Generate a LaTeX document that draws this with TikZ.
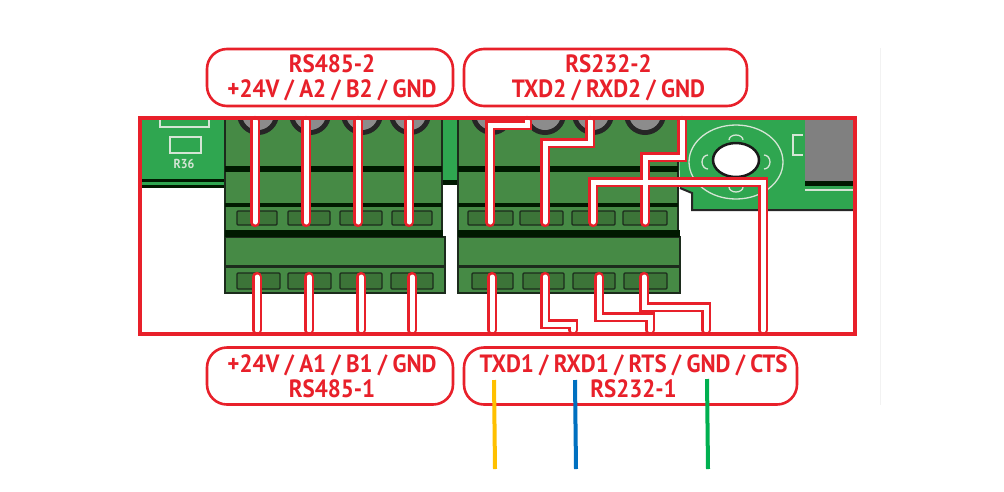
\documentclass[tikz,border=0pt]{standalone}
\usepackage{fontspec}
\setmainfont{PT Sans}[FakeStretch=0.92, WordSpace=0.9]
\usepackage{tikz}
\definecolor{label red}{HTML}{E8202A}
\definecolor{board green}{HTML}{2FA650}
\definecolor{block green}{HTML}{468A45}
\definecolor{cell green}{HTML}{3C7438}
\definecolor{block edge}{HTML}{1C2B1C}
\definecolor{silk}{HTML}{D5E5D5}
\tikzset{wire/.style={draw=label red, line width=2.7pt, double=white, double distance=5pt, line cap=round, line join=miter}}
\tikzset{block/.style={fill=block green, draw=block edge, line width=1.2pt}}
\tikzset{band/.style={fill=black!90!green}}
\tikzset{cell/.style={fill=cell green, draw=block edge, line width=1.2pt, rounded corners=1pt}}
\tikzset{screw/.style={fill=black!85}}
\tikzset{screw head/.style={fill=black!45}}
\tikzset{silk line/.style={draw=silk, line width=1.3pt}}
\tikzset{label box/.style={draw=label red, fill=white, line width=2.6pt, rounded corners=20pt, align=center, text=label red, inner sep=0pt, minimum height=57pt, font=\fontsize{25}{25}\selectfont\bfseries}}
\tikzset{pin line/.style={line width=4pt}}

\begin{document}
\begin{tikzpicture}[x=1pt, y=-1pt]
    \useasboundingbox (0, 0) rectangle (1004, 491);
    \fill[white] (0, 0) rectangle (1004, 491);
    \draw[black!5, line width=1pt] (880, 48) -- (880, 405);

    \fill[board green] (139, 118) rectangle (226, 188);
    \fill[band] (139, 179) rectangle (226, 182);
    \fill[band] (139, 185) rectangle (226, 188);
    \draw[silk line] (160, 118) -- (160, 127) -- (209, 127) -- (209, 118);
    \draw[silk line] (170, 137) rectangle (201, 153);
    \node[text=silk, font=\fontsize{13}{13}\selectfont\bfseries, inner sep=0pt] (silk name) at (184, 164) {R36};

    \fill[board green] (443, 118) rectangle (459, 180);
    \fill[band] (443, 180) rectangle (459, 185);

    \fill[board green] (678, 118) -- (854, 118) -- (854, 209) -- (692, 209) -- (692, 193) -- (680, 188) -- cycle;
    \draw[black!85, line width=2pt] (680, 188) -- (692, 193) -- (692, 210) -- (854, 210);
    \fill[black!50] (805, 118) rectangle (853, 182);
    \fill[band] (805, 181) rectangle (853, 186);
    \draw[silk line] (805, 190) -- (853, 190);
    \draw[silk line] (803, 135) -- (793, 135) -- (793, 155) -- (803, 155);
    \draw[silk line] (736, 162) ellipse (47 and 37);
    \draw[silk line] (729, 140) arc (180:360:7 and 5);
    \draw[silk line] (708, 169) arc (90:270:6 and 7);
    \draw[silk line] (764, 155) arc (-90:90:6 and 7);
    \draw[silk line] (729, 187) arc (180:0:7 and 5);
    \draw[fill=white, draw=black!90, line width=2.5pt] (736, 160) ellipse (23 and 17);

    \draw[block] (225, 118) rectangle (442, 237);
    \draw[block] (458, 118) rectangle (678, 237);
    \begin{scope}
        \clip (139, 118) rectangle (854, 140);
        \fill[screw] (258, 114) circle (21);
        \fill[screw] (310, 114) circle (21);
        \fill[screw] (362, 114) circle (21);
        \fill[screw] (410, 114) circle (21);
        \fill[screw] (492, 114) circle (21);
        \fill[screw] (545, 114) circle (21);
        \fill[screw] (593, 114) circle (21);
        \fill[screw] (645, 114) circle (21);
        \fill[screw head] (258, 114) circle (16);
        \fill[screw head] (310, 114) circle (16);
        \fill[screw head] (362, 114) circle (16);
        \fill[screw head] (410, 114) circle (16);
        \fill[screw head] (492, 114) circle (16);
        \fill[screw head] (545, 114) circle (16);
        \fill[screw head] (593, 114) circle (16);
        \fill[screw head] (645, 114) circle (16);
    \end{scope}
    \fill[band] (225, 166) rectangle (442, 172);
    \fill[band] (458, 166) rectangle (678, 172);
    \fill[band] (225, 203) rectangle (442, 207);
    \fill[band] (458, 203) rectangle (678, 207);
    \draw[cell] (237, 211) rectangle (277, 225);
    \draw[cell] (288, 211) rectangle (330, 225);
    \draw[cell] (340, 211) rectangle (382, 225);
    \draw[cell] (392, 211) rectangle (432, 225);
    \draw[cell] (468, 211) rectangle (513, 225);
    \draw[cell] (520, 211) rectangle (563, 225);
    \draw[cell] (572, 211) rectangle (615, 225);
    \draw[cell] (623, 211) rectangle (667, 225);

    \draw[block] (225, 237) rectangle (445, 293);
    \draw[block] (458, 237) rectangle (680, 293);
    \fill[band] (225, 230) rectangle (443, 237);
    \fill[band] (458, 230) rectangle (680, 237);
    \fill[block edge] (225, 265) rectangle (445, 268);
    \fill[block edge] (458, 265) rectangle (680, 268);
    \draw[cell] (237, 273) rectangle (280, 289);
    \draw[cell] (288, 273) rectangle (331, 289);
    \draw[cell] (340, 273) rectangle (382, 289);
    \draw[cell] (391, 273) rectangle (433, 289);
    \draw[cell] (472, 273) rectangle (513, 289);
    \draw[cell] (523, 273) rectangle (564, 289);
    \draw[cell] (573, 273) rectangle (615, 289);
    \draw[cell] (624, 273) rectangle (667, 289);

    \draw[wire] (255, 121) -- (255, 222);
    \draw[wire] (306, 121) -- (306, 222);
    \draw[wire] (358, 121) -- (358, 222);
    \draw[wire] (409, 121) -- (409, 222);
    \draw[wire] (490, 222) -- (490, 125) -- (527, 125) -- (527, 121)
        (545, 222) -- (545, 143) -- (590, 143) -- (590, 121)
        (645, 222) -- (645, 157) -- (682, 157) -- (682, 121)
        (593, 222) -- (593, 182) -- (763, 182) -- (763, 330);
    \draw[wire] (257, 277) -- (257, 330);
    \draw[wire] (309, 277) -- (309, 330);
    \draw[wire] (361, 277) -- (361, 330);
    \draw[wire] (412, 277) -- (412, 330);
    \draw[wire] (492, 277) -- (492, 330);
    \draw[wire] (545, 277) -- (545, 324) -- (573, 324) -- (573, 330);
    \draw[wire] (599, 277) -- (599, 317) -- (650, 317) -- (650, 330);
    \draw[wire] (644, 277) -- (644, 307) -- (706, 307) -- (706, 330);

    \draw[draw=label red, line width=4pt] (139.5, 118) rectangle (854.5, 334);

    \node[label box, minimum width=246pt] (rs485 two) at (330, 77.5) {\hspace*{4pt}RS485-2\\\hspace*{4pt}+24V / A2 / B2 / GND};
    \node[label box, minimum width=283pt] (rs232 two) at (605.5, 77.5) {\hspace*{6pt}RS232-2\\\hspace*{6pt}TXD2 / RXD2 / GND};
    \node[label box, minimum width=246pt] (rs485 one) at (330, 376) {\hspace*{4pt}+24V / A1 / B1 / GND\\\hspace*{4pt}RS485-1};
    \node[label box, minimum width=333pt] (rs232 one) at (630.5, 376) {\hspace*{6pt}TXD1 / RXD1 / RTS / GND / CTS\\\hspace*{6pt}RS232-1};

    \coordinate (txd top) at (494, 380);
    \coordinate (txd end) at (495, 469);
    \coordinate (rxd top) at (575, 380);
    \coordinate (rxd end) at (576, 469);
    \coordinate (gnd top) at (707, 379);
    \coordinate (gnd end) at (708, 469);
    \draw[pin line, draw={rgb,255:red,255;green,192;blue,0}] (txd top) -- (txd end);
    \draw[pin line, draw={rgb,255:red,0;green,112;blue,192}] (rxd top) -- (rxd end);
    \draw[pin line, draw={rgb,255:red,0;green,176;blue,80}] (gnd top) -- (gnd end);
\end{tikzpicture}
\end{document}
